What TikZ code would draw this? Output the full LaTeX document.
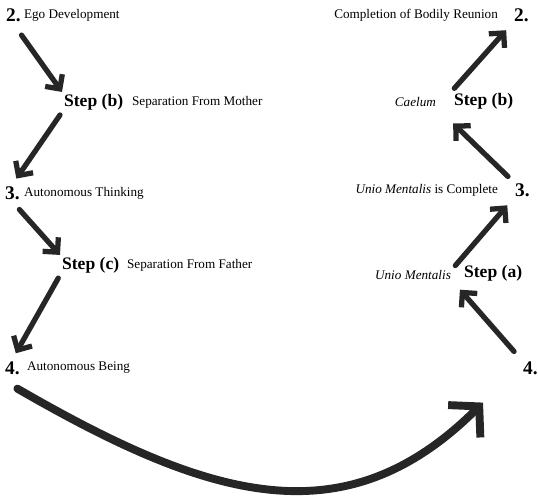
\documentclass[tikz,border=0pt]{standalone}
\usepackage{fontspec}
\setmainfont{Liberation Serif}
\usetikzlibrary{arrows.meta,positioning,calc}

\tikzset{
  lbl/.style={inner sep=1pt, font=\fontsize{7.5}{9}\selectfont},
  num/.style={inner sep=1pt, font=\fontsize{11}{13}\selectfont\bfseries},
  stp/.style={inner sep=1pt, font=\fontsize{10}{12}\selectfont\bfseries},
  bigarrow/.style={line width=3pt, color=black!85, line cap=round,
    -{Straight Barb[length=6pt,width=12pt,line width=3pt]}},
}

\begin{document}
\begin{tikzpicture}[x=0.02cm, y=-0.02cm]
  \useasboundingbox (0,0) rectangle (538,495);

  % left column
  \node[num, anchor=west] (n2l) at (4,15) {2.};
  \node[lbl, anchor=west] (ego) at (22,15) {Ego Development};
  \node[stp, anchor=west] (stepbl) at (62,102) {Step (b)};
  \node[lbl, anchor=west] (sepm) at (130,102) {Separation From Mother};
  \node[num, anchor=west] (n3l) at (3,193) {3.};
  \node[lbl, anchor=west] (autth) at (22,193) {Autonomous Thinking};
  \node[stp, anchor=west] (stepcl) at (60,265) {Step (c)};
  \node[lbl, anchor=west] (sepf) at (125,265) {Separation From Father};
  \node[num, anchor=west] (n4l) at (3,368) {4.};
  \node[lbl, anchor=west] (autbe) at (25,368) {Autonomous Being};

  % right column
  \node[lbl, anchor=east] (compl) at (500,15) {Completion of Bodily Reunion};
  \node[num, anchor=west] (n2r) at (512,15) {2.};
  \node[lbl, anchor=east] (caelum) at (438,102) {\textit{Caelum}};
  \node[stp, anchor=west] (stepbr) at (452,101) {Step (b)};
  \node[lbl, anchor=east] (unioc) at (500,190) {\textit{Unio Mentalis} is Complete};
  \node[num, anchor=west] (n3r) at (513,190) {3.};
  \node[lbl, anchor=east] (unio) at (453,275) {\textit{Unio Mentalis}};
  \node[stp, anchor=west] (stepar) at (462,273) {Step (a)};
  \node[num, anchor=west] (n4r) at (521,368) {4.};

  % arrows
  \draw[bigarrow, shorten <=8pt] (n2l.south) -- (stepbl.north west);
  \draw[bigarrow, shorten <=2pt, shorten >=4pt] (stepbl.south west) -- (n3l.north);
  \draw[bigarrow, shorten <=6pt] (n3l.south) -- (stepcl.north west);
  \draw[bigarrow, shorten <=2pt, shorten >=4pt] (stepcl.south west) -- (n4l.north);
  \draw[bigarrow, shorten <=2pt, shorten >=5pt] (stepbr.north west) -- (n2r.south west);
  \draw[bigarrow, shorten <=4pt, shorten >=12pt] (n3r.north west) -- (caelum.south east);
  \draw[bigarrow, shorten <=2pt, shorten >=5pt] (unio.north east) -- (n3r.south west);
  \draw[bigarrow, shorten <=6pt, shorten >=6pt] (n4r.north west) -- (unio.south east);

  % big return arrow
  \draw[line width=4.5pt, color=black!85, line cap=round,
    -{Straight Barb[length=12pt,width=26pt,line width=4.5pt]}]
    ($(n4l.south)+(5,12)$) .. controls (210,500) and (345,540)
    .. ($(n4r.south west)+(-38,26)$);
\end{tikzpicture}
\end{document}
